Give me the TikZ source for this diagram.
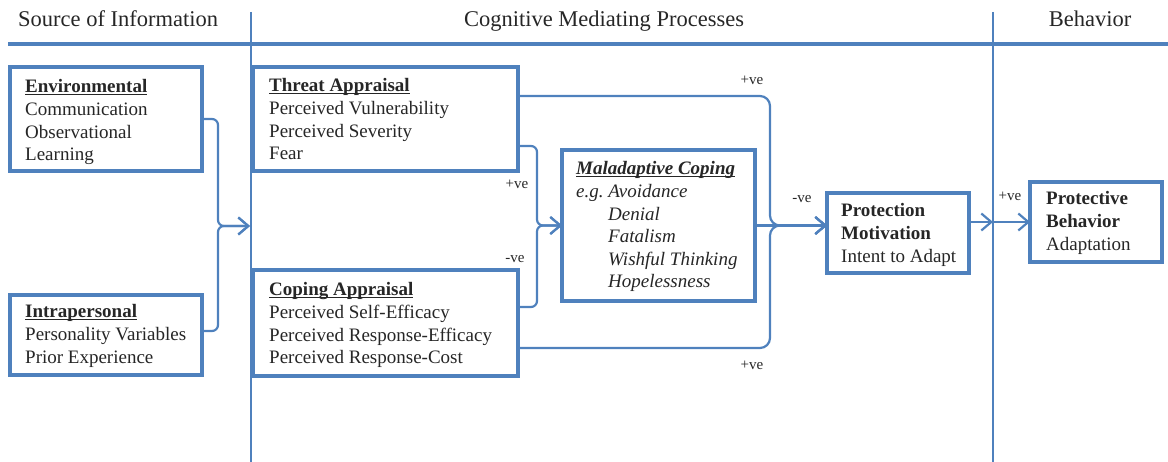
\documentclass[tikz,border=0pt]{standalone}
\usepackage{fontspec}
\setmainfont{Liberation Serif}
\usetikzlibrary{arrows.meta,calc}
\definecolor{bl}{HTML}{4F81BD}
\definecolor{tx}{HTML}{262626}
\newcommand\wul[1]{\setbox0\hbox{#1}\rlap{\rule[-2.4pt]{\wd0}{1pt}}\box0}
\newcommand\lns[1]{\begin{tabular}[t]{@{}l@{}}#1\end{tabular}}
\tikzset{
  box/.style={draw=bl, line width=3.4pt, fill=white, inner sep=0pt, outer sep=0pt},
  txt/.style={anchor=base west, inner sep=0pt, text=tx, font=\fontsize{19}{22.6}\selectfont},
  head/.style={anchor=base, inner sep=0pt, text=tx, font=\fontsize{22.5}{26}\selectfont},
  lbl/.style={inner sep=0pt, text=tx, font=\fontsize{15}{16}\selectfont},
  conn/.style={draw=bl, line width=2.2pt},
  arr/.style={conn, -{Straight Barb[length=10pt,width=17pt,line width=2.2pt]}},
  divider/.style={draw=bl, line width=1.6pt}
}
\begin{document}
\begin{tikzpicture}[x=1pt,y=-1pt]
\useasboundingbox (0,0) rectangle (1168,462);
% header
\node[head, anchor=base west] (h1) at (18,27) {Source of Information};
\node[head] (h2) at (604,27) {Cognitive Mediating Processes};
\node[head] (h3) at (1090,27) {Behavior};
\draw[divider] (251,12) -- (251,462);
\draw[divider] (993,12) -- (993,462);
\draw[draw=bl, line width=3.2pt] (8,44) -- (1168,44);
% connector points
\coordinate (j1) at (250,226);
\coordinate (mid) at (993,222);
% boxes
\node[box, minimum width=192pt, minimum height=104pt] (env) at (106,119) {};
\node[box, minimum width=192pt, minimum height=80pt] (intra) at (106,335) {};
\node[box, minimum width=265pt, minimum height=104pt] (threat) at (385.5,119) {};
\node[box, minimum width=265pt, minimum height=106pt] (coping) at (385.5,323) {};
\node[box, minimum width=193pt, minimum height=151pt] (mal) at (658.5,225.5) {};
\node[box, minimum width=142pt, minimum height=80pt] (prot) at (898,233) {};
\node[box, minimum width=132pt, minimum height=80pt] (beh) at (1096,222) {};
\coordinate (pin) at (prot.west |- mal.east);
% texts
\node[txt] (envt) at (25,93) {\lns{\wul{\textbf{Environmental}}\\Communication\\Observational\\Learning}};
\node[txt] (intrat) at (25,318) {\lns{\wul{\textbf{Intrapersonal}}\\Personality Variables\\Prior Experience}};
\node[txt] (threatt) at (269,92) {\lns{\wul{\textbf{Threat Appraisal}}\\Perceived Vulnerability\\Perceived Severity\\Fear}};
\node[txt] (copingt) at (269,296) {\lns{\wul{\textbf{Coping Appraisal}}\\Perceived Self-Efficacy\\Perceived Response-Efficacy\\Perceived Response-Cost}};
\node[txt] (malt) at (576,175) {\lns{\wul{\textbf{\textit{Maladaptive Coping}}}\\\textit{e.g.\ Avoidance}\\\hspace{32pt}\textit{Denial}\\\hspace{32pt}\textit{Fatalism}\\\hspace{32pt}\textit{Wishful Thinking}\\\hspace{32pt}\textit{Hopelessness}}};
\node[txt] (prott) at (841,217) {\lns{\textbf{Protection}\\\textbf{Motivation}\\Intent to Adapt}};
\node[txt] (beht) at (1046,205) {\lns{\textbf{Protective}\\\textbf{Behavior}\\Adaptation}};
% source bracket
\draw[arr, rounded corners=6pt] (env.east) -- (218,119) -- (218,226) -- (j1);
\draw[arr, rounded corners=6pt] ([yshift=4pt]intra.east) -- (218,331) -- (218,226) -- (j1);
% appraisal to maladaptive
\draw[arr, rounded corners=6pt] (threat.east |- 0,146) -- (537,146) -- (537,225.5) -- (mal.west);
\draw[arr, rounded corners=6pt] (coping.east |- 0,307) -- (537,307) -- (537,225.5) -- (mal.west);
% to protection motivation
\draw[arr, rounded corners=10pt] (threat.east |- 0,96) -- (770,96) -- (770,225.5) -- (pin);
\draw[arr, rounded corners=10pt] (coping.east |- 0,348) -- (770,348) -- (770,225.5) -- (pin);
\draw[arr] (mal.east) -- (pin);
% to behavior
\draw[arr] (prot.east |- beh.west) -- (mid);
\draw[arr] (mid) -- (beh.west);
% labels
\node[lbl] (l1) at (752,80) {+ve};
\node[lbl] (l2) at (802,199) {-ve};
\node[lbl] (l3) at (517,184) {+ve};
\node[lbl] (l4) at (515,259) {-ve};
\node[lbl] (l5) at (752,365) {+ve};
\node[lbl] (l6) at (1010,196) {+ve};
\end{tikzpicture}
\end{document}
